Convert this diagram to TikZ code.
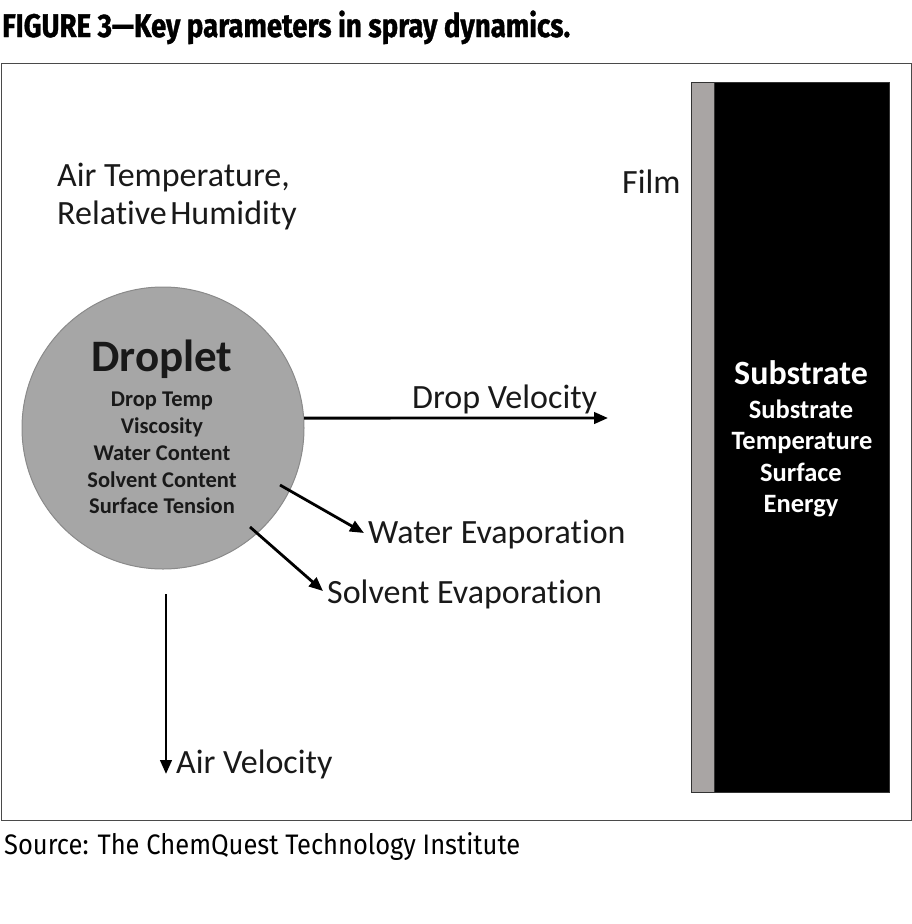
\documentclass[tikz,border=0pt]{standalone}
\usepackage{fontspec}
\setmainfont{Carlito}[Ligatures=NoCommon]
\newfontfamily\capfont{Fira Sans}
\newfontfamily\titlefont{Fira Sans}[FakeBold=1.2]
\usetikzlibrary{arrows.meta}
\definecolor{dropgray}{HTML}{A6A6A6}
\definecolor{dropedge}{HTML}{8A8A8A}
\definecolor{filmgray}{HTML}{A9A5A4}
\definecolor{framegray}{HTML}{4A4A4A}
\tikzset{
  arr/.style={line width=2.8pt, -{Triangle[length=14pt,width=11.5pt]}},
  lbl/.style={anchor=base west, inner sep=0pt, font=\fontsize{34}{40}\selectfont, text=black!90},
  dparam/.style={anchor=base, inner sep=0pt, font=\fontsize{22.5}{27}\selectfont\bfseries, text=black!90},
  sparam/.style={anchor=base, inner sep=0pt, font=\fontsize{26.5}{31}\selectfont\bfseries, text=white},
}
\begin{document}
\begin{tikzpicture}[x=1pt,y=-1pt]
\useasboundingbox (0,0) rectangle (912,924);
% title
\node[anchor=base west, inner sep=0pt] (title) at (2,37)
  {\resizebox{568pt}{26.5pt}{\titlefont\bfseries FIGURE 3—Key parameters in spray dynamics.}};
% frame
\node[draw=framegray, line width=1.3pt, minimum width=910pt, minimum height=757pt, inner sep=0pt, anchor=north west] (frame) at (0.8,63) {};
% source
\node[anchor=base west, inner sep=0pt] (source) at (4,854)
  {\resizebox{516pt}{22pt}{\capfont Source: The ChemQuest Technology Institute}};
% film and substrate
\node[draw=black!80, line width=1pt, fill=filmgray, minimum width=23pt, minimum height=710pt, inner sep=0pt, anchor=north west] (film) at (691,82) {};
\node[draw=black!80, line width=1pt, fill=black, minimum width=175pt, minimum height=710pt, inner sep=0pt, anchor=north west] (substrate) at (714,82) {};
\node[anchor=base, inner sep=0pt, font=\fontsize{34}{38}\selectfont\bfseries, text=white] (stitle) at (801,384) {Substrate};
\node[sparam] (s1) at (801,418) {Substrate};
\node[sparam] (s2) at (802,449) {Temperature};
\node[sparam] (s3) at (801,481) {Surface};
\node[sparam] (s4) at (801,512) {Energy};
% droplet
\node[circle, draw=dropedge, line width=1pt, fill=dropgray, minimum size=282pt, inner sep=0pt] (droplet) at (163,428) {};
\node[anchor=base, inner sep=0pt, font=\fontsize{45}{50}\selectfont\bfseries, text=black!90] (dtitle) at (162,371) {Droplet};
\node[dparam] (d1) at (162,406) {Drop Temp};
\node[dparam] (d2) at (162,433) {Viscosity};
\node[dparam] (d3) at (162,460) {Water Content};
\node[dparam] (d4) at (162,487) {Solvent Content};
\node[dparam] (d5) at (162,513) {Surface Tension};
% labels
\node[lbl] (airtemp) at (57,186) {Air Temperature,};
\node[lbl] (relhum) at (57,224) {Relative\hspace{0.1em}Humidity};
\node[lbl] (filmlbl) at (622,193) {Film};
\node[lbl] (dvlbl) at (412,408) {Drop Velocity};
\node[lbl] (welbl) at (368,543) {Water Evaporation};
\node[lbl] (selbl) at (327,603) {Solvent Evaporation};
\node[lbl] (avlbl) at (176,773) {Air Velocity};
% arrows
\coordinate (dvEnd) at (608,418);
\coordinate (weS) at (280,485);
\coordinate (weE) at (364,533);
\coordinate (seS) at (250,527);
\coordinate (seE) at (323,591);
\coordinate (avS) at (166,594);
\coordinate (avE) at (166,774);
\draw[arr] (droplet.4) -- (dvEnd);
\draw[arr] (weS) -- (weE);
\draw[arr] (seS) -- (seE);
\draw[arr] (avS) -- (avE);
\end{tikzpicture}
\end{document}
